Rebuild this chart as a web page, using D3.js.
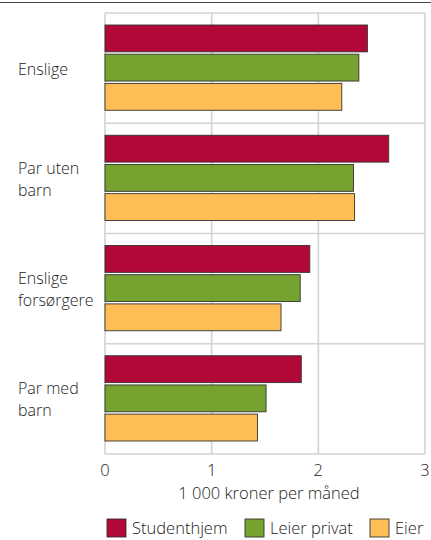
<!DOCTYPE html>
<html><head><meta charset="utf-8">
<script src="https://cdn.jsdelivr.net/npm/d3@7/dist/d3.min.js"></script>
<style>body{margin:0;background:#fff}svg{display:block;font-family:"Open Sans",sans-serif;font-weight:300}</style>
</head><body>
<svg id="c" width="431" height="540"></svg>
<script>
const categories = [["Enslige"],["Par uten","barn"],["Enslige","forsørgere"],["Par med","barn"]];
const seriesNames = ["Studenthjem","Leier privat","Eier"];
const studenthjem = [2.46, 2.66, 1.92, 1.84];
const leierPrivat = [2.38, 2.33, 1.83, 1.51];
const eier = [2.22, 2.34, 1.65, 1.43];
const xTicks = [0,1,2,3];
const xTitle = "1 000 kroner per måned";
const colors = ["#b20838","#76a22f","#ffbd55"];

const series = [studenthjem, leierPrivat, eier];
const svg = d3.select("#c");
const L=105, R=425, T=13, B=454;
const FS = 16.5, LFS = 16;
const x = d3.scaleLinear().domain([0,3]).range([L,R]);
const y = d3.scaleBand().domain(d3.range(categories.length)).range([T,B]);
const inner = d3.scaleBand().domain(d3.range(3)).range([12, y.bandwidth()-13]).paddingInner(0.08);

svg.append("line").attr("x1",0).attr("x2",431).attr("y1",2.5).attr("y2",2.5).attr("stroke","#444").attr("stroke-width",1.2);

const grid = svg.append("g").attr("stroke","#d3d3d3").attr("stroke-width",1.6);
xTicks.forEach(t=>grid.append("line").attr("x1",x(t)).attr("x2",x(t)).attr("y1",T).attr("y2",B));
d3.range(categories.length+1).forEach(i=>{
  const yy = i<categories.length? y(i): B;
  grid.append("line").attr("x1",L).attr("x2",R).attr("y1",yy).attr("y2",yy);
});

categories.forEach((c,i)=>{
  const g = svg.append("g").attr("transform",`translate(0,${y(i)})`);
  series.forEach((s,j)=>{
    g.append("rect").attr("x",x(0)).attr("y",inner(j)).attr("width",x(s[i])-x(0)).attr("height",inner.bandwidth())
     .attr("fill",colors[j]).attr("stroke","#333").attr("stroke-width",0.9);
  });
  const cy = y.bandwidth()/2+1;
  const n=c.length;
  c.forEach((line,k)=>{
    g.append("text").attr("x",18).attr("y",cy+(k-(n-1)/2)*22).attr("dy","0.35em")
     .attr("font-size",LFS).attr("fill","#222").text(line);
  });
});

const ax = svg.append("g");
xTicks.forEach(t=>ax.append("text").attr("x",x(t)).attr("y",470).attr("dy","0.35em").attr("text-anchor","middle").attr("font-size",FS).attr("fill","#222").text(t));
ax.append("text").attr("x",269).attr("y",493).attr("dy","0.35em").attr("text-anchor","middle").attr("font-size",FS).attr("fill","#222").text(xTitle);

const legX=[107,245,370];
seriesNames.forEach((n,j)=>{
  svg.append("rect").attr("x",legX[j]).attr("y",519).attr("width",19).attr("height",18).attr("fill",colors[j]).attr("stroke","#333").attr("stroke-width",0.9);
  svg.append("text").attr("x",legX[j]+25).attr("y",528).attr("dy","0.35em").attr("font-size",FS).attr("fill","#222").text(n);
});
</script>
</body></html>
